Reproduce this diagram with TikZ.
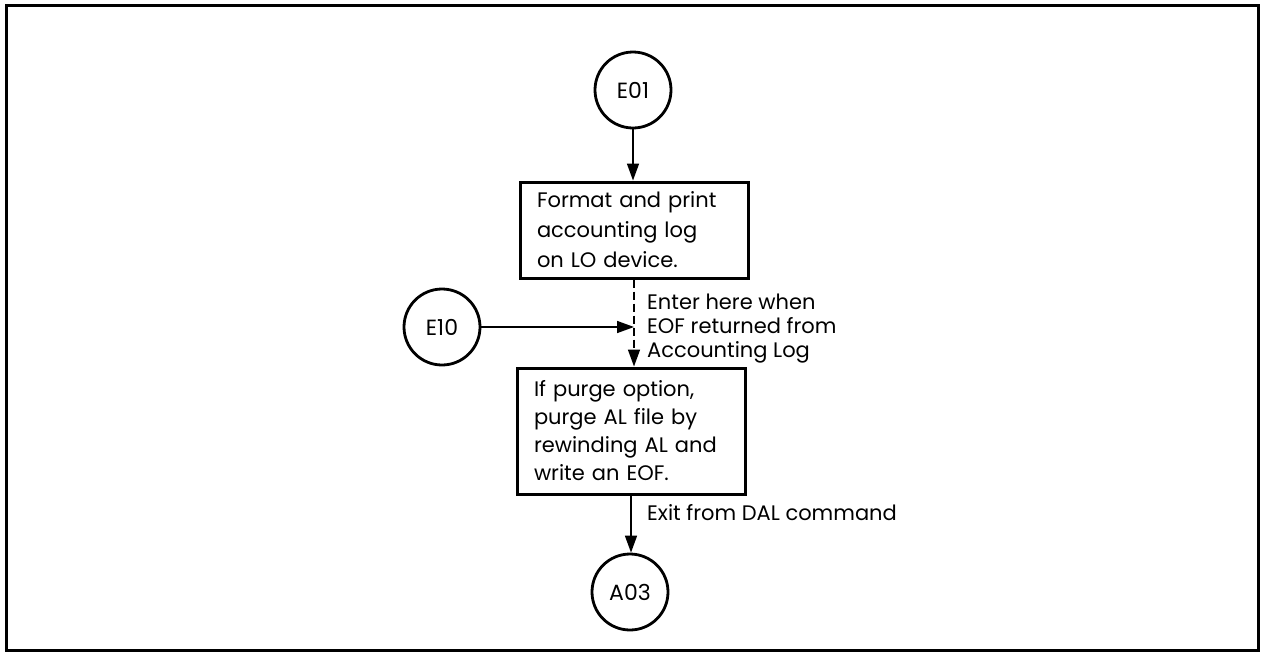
\documentclass[tikz,border=0pt]{standalone}
\usepackage{fontspec}
\setmainfont{Poppins}
\usetikzlibrary{arrows.meta}
\begin{document}
\begin{tikzpicture}[x=1pt,y=-1pt,
  conn/.style={line width=1.6pt,-{Triangle[length=17pt,width=12pt]}},
  dconn/.style={conn,dash pattern=on 8pt off 4pt},
  term/.style={circle,draw,line width=2.8pt,minimum size=76pt,inner sep=0pt,font=\fontsize{22}{26}\selectfont},
  procbox/.style={rectangle,draw,line width=3pt,minimum width=228pt,text width=194pt,inner xsep=17pt,inner ysep=0pt,align=left},
  lbl/.style={anchor=north west,inner sep=0pt,align=left,font=\fontsize{21}{24}\selectfont}
]
\useasboundingbox (0,0) rectangle (1261,654);
\draw[line width=3pt] (6,5.5) rectangle (1258,650.5);

\node[term] (e01) at (633,90) {E01};
\node[procbox,minimum height=96pt,font=\fontsize{21}{30}\selectfont] (b1) at (634,230)
  {Format and print\\accounting log\\on LO device.};
\node[term] (e10) at (442,327) {E10};
\node[procbox,minimum height=126pt,font=\fontsize{21}{28}\selectfont] (b2) at (631,431)
  {If purge option,\\purge AL file by\\rewinding AL and\\write an EOF.};
\node[term] (a03) at (630,592) {A03};

\node[lbl] (enter) at (647,294) {Enter here when\\EOF returned from\\Accounting Log};
\node[lbl] (exit) at (647,504) {Exit from DAL command};

\draw[conn] (e01.south) -- (e01.south |- b1.north);
\draw[dconn] (b1.south) -- (b1.south |- b2.north);
\draw[conn] (e10.east) -- (e10.east -| b1.south);
\draw[conn] (b2.south) -- (b2.south |- a03.north);
\end{tikzpicture}
\end{document}
